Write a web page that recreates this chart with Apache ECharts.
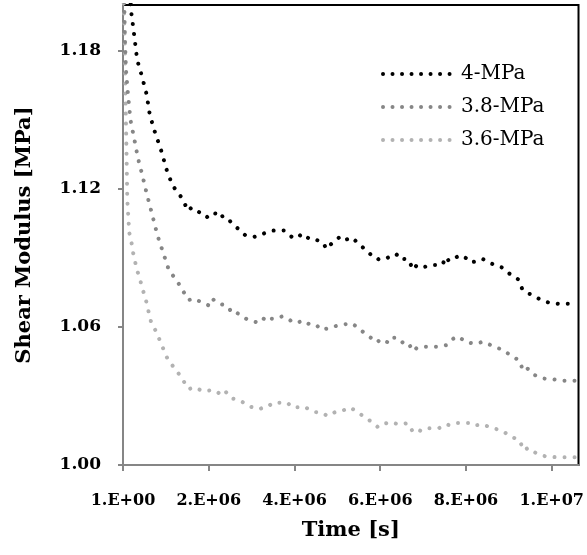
<!DOCTYPE html>
<html>
<head>
<meta charset="utf-8">
<script src="https://cdn.jsdelivr.net/npm/echarts@6/dist/echarts.min.js"></script>
<style>
html,body{margin:0;padding:0;background:#fff;}
#chart{width:587px;height:555px;}
</style>
</head>
<body>
<div id="chart"></div>
<script>
// Time in units of 1e6 s
const seriesNames = ['4-MPa', '3.8-MPa', '3.6-MPa'];

const t4 = [0.162,0.192,0.271,0.331,0.440,0.549,0.625,0.734,0.887,1.025,1.157,1.366,1.521,1.597,1.752,1.951,2.044,2.169,2.245,2.338,2.461,2.616,2.708,2.847,3.063,3.201,3.317,3.479,3.757,3.866,3.958,4.067,4.174,4.375,4.514,4.669,4.745,4.884,5.039,5.146,5.317,5.410,5.595,5.780,5.887,5.965,6.104,6.243,6.336,6.412,6.551,6.660,6.766,6.845,6.968,7.199,7.447,7.539,7.600,7.738,7.863,8.032,8.109,8.201,8.387,8.604,8.836,9.021,9.220,9.313,9.421,9.498,9.699,9.931,10.146,10.394];
const g4 = [1.2047,1.1970,1.1854,1.1761,1.1691,1.1613,1.1523,1.1453,1.1369,1.1279,1.1215,1.1163,1.1105,1.1119,1.1102,1.1076,1.1096,1.1093,1.1073,1.1084,1.1067,1.1038,1.1024,1.1000,1.0992,1.1000,1.1009,1.1019,1.1020,1.1002,1.0989,1.0987,1.1006,1.0980,1.0979,1.0966,1.0939,1.0966,1.0989,1.0974,1.0990,1.0977,1.0946,1.0915,1.0910,1.0893,1.0896,1.0907,1.0905,1.0919,1.0896,1.0893,1.0849,1.0867,1.0858,1.0870,1.0870,1.0905,1.0887,1.0900,1.0912,1.0897,1.0881,1.0884,1.0896,1.0875,1.0859,1.0831,1.0807,1.0765,1.0748,1.0743,1.0723,1.0706,1.0701,1.0701];

const t38 = [0.020,0.046,0.069,0.116,0.162,0.185,0.271,0.347,0.456,0.549,0.671,0.780,0.840,0.919,0.995,1.072,1.211,1.350,1.442,1.535,1.627,1.799,2.014,2.090,2.183,2.308,2.414,2.569,2.646,2.771,2.910,3.125,3.248,3.310,3.419,3.525,3.711,3.850,3.958,4.081,4.206,4.405,4.530,4.623,4.729,4.808,5.007,5.116,5.238,5.317,5.424,5.625,5.826,5.933,5.995,6.227,6.319,6.412,6.521,6.644,6.766,6.845,6.951,7.060,7.308,7.539,7.678,7.817,8.016,8.095,8.218,8.403,8.618,8.836,9.035,9.252,9.329,9.421,9.576,9.808,10.039,10.285,10.532];
const g38 = [1.2100,1.1851,1.1720,1.1611,1.1524,1.1490,1.1410,1.1336,1.1256,1.1183,1.1096,1.1016,1.0977,1.0933,1.0890,1.0846,1.0813,1.0774,1.0743,1.0717,1.0724,1.0711,1.0693,1.0722,1.0707,1.0698,1.0693,1.0658,1.0663,1.0646,1.0632,1.0620,1.0623,1.0646,1.0637,1.0635,1.0646,1.0637,1.0620,1.0620,1.0628,1.0605,1.0605,1.0588,1.0592,1.0594,1.0607,1.0611,1.0613,1.0617,1.0605,1.0575,1.0547,1.0533,1.0547,1.0530,1.0553,1.0553,1.0533,1.0534,1.0495,1.0508,1.0508,1.0514,1.0514,1.0521,1.0547,1.0559,1.0533,1.0531,1.0527,1.0536,1.0518,1.0502,1.0478,1.0453,1.0411,1.0422,1.0393,1.0376,1.0372,1.0366,1.0366];

const t36 = [0.012,0.046,0.058,0.081,0.100,0.146,0.192,0.225,0.271,0.317,0.377,0.440,0.502,0.563,0.609,0.671,0.764,0.856,0.949,1.042,1.181,1.336,1.442,1.535,1.660,1.859,2.014,2.153,2.262,2.368,2.539,2.646,2.785,2.956,3.188,3.310,3.403,3.495,3.650,3.836,3.942,4.081,4.220,4.438,4.560,4.669,4.762,4.947,5.086,5.208,5.301,5.440,5.641,5.840,5.949,6.088,6.257,6.382,6.475,6.627,6.766,6.859,6.968,7.123,7.368,7.539,7.616,7.771,7.924,8.063,8.188,8.373,8.604,8.836,9.035,9.252,9.345,9.451,9.653,9.884,10.116,10.363,10.609];
const g36 = [1.2050,1.1807,1.1590,1.1372,1.1154,1.1010,1.0976,1.0931,1.0896,1.0852,1.0820,1.0777,1.0736,1.0698,1.0655,1.0610,1.0584,1.0543,1.0501,1.0460,1.0426,1.0388,1.0356,1.0330,1.0338,1.0322,1.0324,1.0324,1.0309,1.0324,1.0289,1.0286,1.0274,1.0254,1.0243,1.0254,1.0257,1.0271,1.0271,1.0271,1.0251,1.0251,1.0254,1.0232,1.0228,1.0225,1.0213,1.0230,1.0234,1.0243,1.0250,1.0234,1.0208,1.0182,1.0164,1.0179,1.0187,1.0179,1.0176,1.0182,1.0144,1.0154,1.0147,1.0160,1.0160,1.0177,1.0173,1.0183,1.0183,1.0183,1.0171,1.0177,1.0162,1.0149,1.0126,1.0106,1.0064,1.0074,1.0049,1.0036,1.0034,1.0034,1.0034];

const xAxisMin = 0, xAxisMax = 10.625, xInterval = 2;
const yAxisMin = 1.0, yAxisMax = 1.2, yInterval = 0.06;

const colors = ['#000000', '#868686', '#b2b2b2'];
const pair = (t, g) => t.map((v, i) => [v, g[i]]);
const dataSets = [pair(t4, g4), pair(t38, g38), pair(t36, g36)];

function expLabel(v) {
  if (Math.abs(v) < 1e-9) return '1.E+00';
  const n = v * 1e6;
  const e = Math.floor(Math.log10(n) + 1e-9);
  const m = Math.round(n / Math.pow(10, e));
  return m + '.E+' + String(e).padStart(2, '0');
}

const FONT = 'DejaVu Serif';
const DOT_W = 4;
const DOT_DASH = [0.01, 10];
const dotStyle = (c) => ({ color: c, width: DOT_W, type: DOT_DASH, cap: 'round', join: 'round' });

const chart = echarts.init(document.getElementById('chart'), null, { renderer: 'canvas' });
chart.setOption({
  animation: false,
  backgroundColor: '#fff',
  grid: { left: 123, right: 5, top: 5, bottom: 90, show: true, borderColor: '#000', borderWidth: 2, backgroundColor: 'transparent' },
  legend: {
    orient: 'vertical',
    left: 376, top: 59,
    itemWidth: 70, itemHeight: 20, itemGap: 13,
    itemStyle: { opacity: 0 },
    lineStyle: { width: DOT_W, type: [0.01, 9.5], cap: 'round' },
    textStyle: { fontFamily: FONT, fontSize: 20, color: '#000', padding: [0, 0, 0, 3] },
    data: seriesNames
  },
  xAxis: {
    type: 'value', min: xAxisMin, max: xAxisMax, interval: xInterval,
    name: 'Time [s]', nameLocation: 'middle', nameGap: 55,
    nameTextStyle: { fontFamily: FONT, fontSize: 21, fontWeight: 'bold', color: '#000' },
    axisLine: { show: true, lineStyle: { color: '#868686', width: 2 } },
    axisTick: { show: true, inside: false, length: 6, lineStyle: { color: '#868686', width: 2 } },
    axisLabel: { showMaxLabel: false, margin: 28, formatter: expLabel, fontFamily: FONT, fontSize: 16, fontWeight: 'bold', color: '#000' },
    splitLine: { show: false }
  },
  yAxis: {
    type: 'value', min: yAxisMin, max: yAxisMax, interval: yInterval,
    name: 'Shear Modulus [MPa]', nameLocation: 'middle', nameGap: 88,
    nameTextStyle: { fontFamily: FONT, fontSize: 21, fontWeight: 'bold', color: '#000' },
    axisLine: { show: true, lineStyle: { color: '#868686', width: 2 } },
    axisTick: { show: true, inside: false, length: 5, lineStyle: { color: '#868686', width: 2 } },
    axisLabel: { showMaxLabel: false, margin: 22, formatter: (v) => v.toFixed(2), fontFamily: FONT, fontSize: 17, fontWeight: 'bold', color: '#000' },
    splitLine: { show: false }
  },
  series: seriesNames.map((name, i) => ({
    name: name,
    type: 'line',
    data: dataSets[i],
    showSymbol: false,
    symbol: 'none',
    smooth: false,
    clip: true,
    color: colors[i],
    lineStyle: dotStyle(colors[i]),
    z: 3 - i
  }))
});
</script>
</body>
</html>
